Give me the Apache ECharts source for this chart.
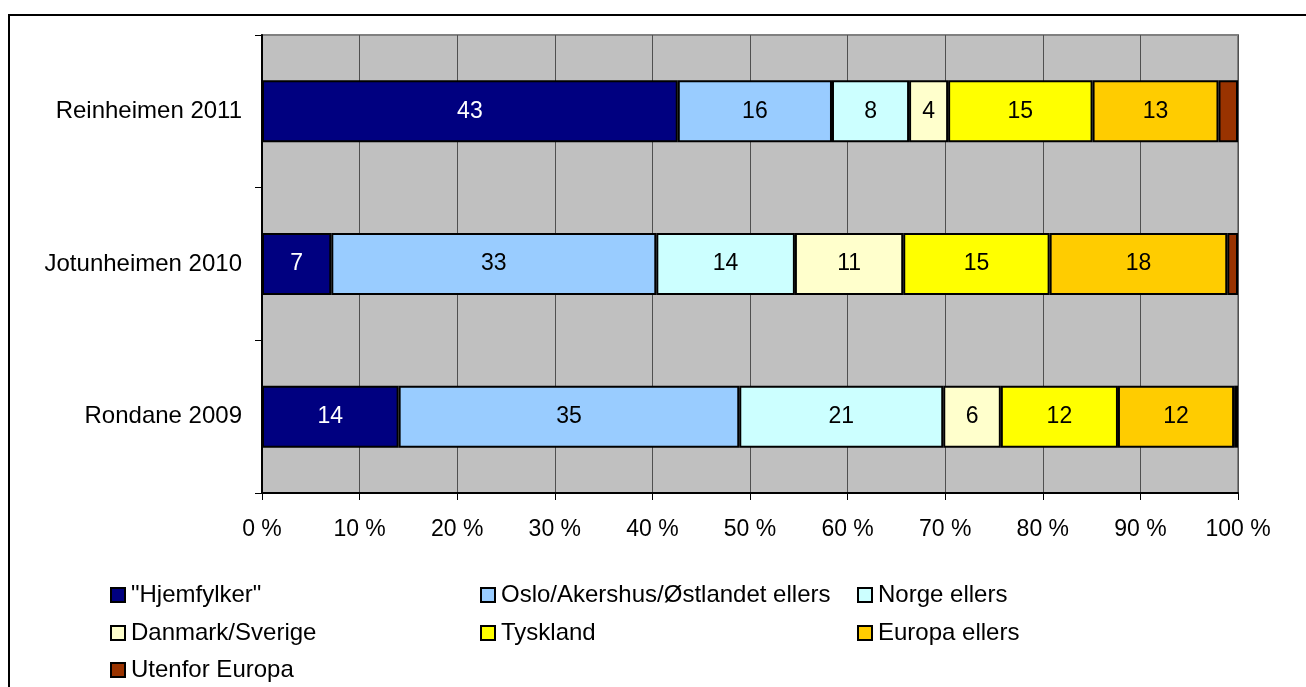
<!DOCTYPE html>
<html>
<head>
<meta charset="utf-8">
<script src="https://cdn.jsdelivr.net/npm/echarts@6/dist/echarts.min.js"></script>
<style>
  html, body { margin: 0; padding: 0; background: #fff; }
  #chart { position: absolute; left: 0; top: 0; width: 1306px; height: 687px; }
  #frame { position: absolute; left: 8px; top: 14px; width: 1400px; height: 800px;
           border-left: 2px solid #000; border-top: 2px solid #000; pointer-events: none; }
</style>
</head>
<body>
<div id="chart"></div>
<div id="frame"></div>
<script>
// categories, bottom to top
var places = ["Rondane 2009", "Jotunheimen 2010", "Reinheimen 2011"];
var seriesNames = ['"Hjemfylker"', "Oslo/Akershus/Østlandet ellers", "Norge ellers",
  "Danmark/Sverige", "Tyskland", "Europa ellers", "Utenfor Europa"];
var colors = ["#000080", "#99CCFF", "#CCFFFF", "#FFFFCC", "#FFFF00", "#FFCC00", "#993300"];

// percent per origin, order = places
var hjemfylker = [14.0, 7.1, 42.6];
var oslo = [34.9, 33.3, 15.8];
var norge = [20.9, 14.2, 7.9];
var danmark = [5.9, 11.1, 4.0];
var tyskland = [12.0, 15.0, 14.8];
var europa = [11.9, 18.2, 12.9];
var utenfor = [0.4, 1.1, 2.0];
var xTicks = [0, 10, 20, 30, 40, 50, 60, 70, 80, 90, 100];

var values = [hjemfylker, oslo, norge, danmark, tyskland, europa, utenfor];

var chartDom = document.getElementById("chart");
var myChart = echarts.init(chartDom);
var font = "Liberation Sans, Arial, sans-serif";

var seriesList = seriesNames.map(function (name, i) {
  return {
    name: name,
    type: "bar",
    stack: "total",
    barWidth: 62,
    data: values[i],
    itemStyle: { color: colors[i], borderColor: "#000", borderWidth: 2 },
    label: {
      show: i < 6,
      position: "inside",
      color: i === 0 ? "#fff" : "#000",
      fontFamily: font,
      fontSize: 23,
      formatter: function (p) {
        return Math.round(p.value);
      },
    },
  };
});

// legend laid out as a 3-column grid, one legend per cell
var legendCols = [110, 480, 857];
var legendRows = [595, 633, 670];
var legendList = seriesNames.map(function (name, i) {
  return {
    orient: "horizontal",
    left: legendCols[i % 3],
    top: legendRows[Math.floor(i / 3)] - 12,
    padding: 0,
    icon: "rect",
    itemWidth: 14,
    itemHeight: 14,
    itemGap: 0,
    itemStyle: { borderColor: "#000", borderWidth: 2 },
    textStyle: { fontFamily: font, fontSize: 24, color: "#000", lineHeight: 24, padding: [0, 0, 0, 1] },
    data: [name],
  };
});

var option = {
  animation: false,
  color: colors,
  legend: legendList,
  grid: {
    left: 262,
    right: 68,
    top: 35,
    bottom: 194,
    show: true,
    backgroundColor: "#C0C0C0",
    borderColor: "#808080",
    borderWidth: 2,
  },
  xAxis: {
    type: "value",
    min: xTicks[0],
    max: xTicks[xTicks.length - 1],
    interval: 10,
    axisLine: { show: true, lineStyle: { color: "#000", width: 2 } },
    axisTick: { show: true, length: 7, lineStyle: { color: "#000" } },
    splitLine: { show: true, lineStyle: { color: "#505050", width: 1 } },
    axisLabel: {
      fontFamily: font,
      fontSize: 23,
      color: "#000",
      margin: 25,
      formatter: "{value} %",
    },
  },
  yAxis: {
    type: "category",
    data: places,
    axisLine: { show: true, lineStyle: { color: "#000", width: 2 } },
    axisTick: { show: true, length: 7, lineStyle: { color: "#000" } },
    splitLine: { show: false },
    axisLabel: { fontFamily: font, fontSize: 24, color: "#000", margin: 20 },
  },
  series: seriesList,
};

option && myChart.setOption(option);
</script>
</body>
</html>
